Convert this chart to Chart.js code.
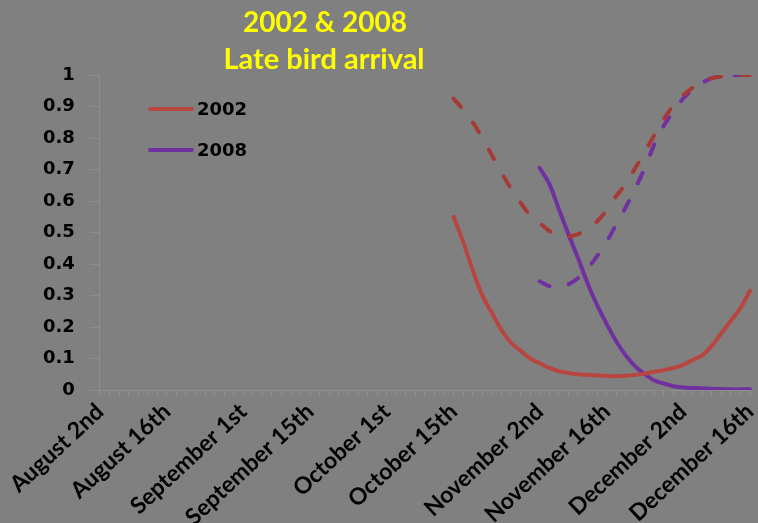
<!DOCTYPE html>
<html lang="en">
<head>
<meta charset="UTF-8">
<title>2002 &amp; 2008 Late bird arrival</title>
<script src="https://cdn.jsdelivr.net/npm/chart.js@4.4.1/dist/chart.umd.min.js"></script>
<style>
    html, body { margin: 0; padding: 0; background: #808080; }
    #wrap { width: 758px; height: 523px; position: relative; }
</style>
</head>
<body>
<div id="wrap"><canvas id="myChart"></canvas></div>
<script>
    // every second day, Aug 2nd .. Dec 16th
    const categories = [
        'August 2nd', 'August 4th', 'August 6th', 'August 8th', 'August 10th', 'August 12th', 'August 14th',
        'August 16th', 'August 18th', 'August 20th', 'August 22nd', 'August 24th', 'August 26th', 'August 28th',
        'August 30th', 'September 1st', 'September 3rd', 'September 5th', 'September 7th', 'September 9th',
        'September 11th', 'September 13th', 'September 15th', 'September 17th', 'September 19th', 'September 21st',
        'September 23rd', 'September 25th', 'September 27th', 'September 29th', 'October 1st', 'October 3rd',
        'October 5th', 'October 7th', 'October 9th', 'October 11th', 'October 13th', 'October 15th', 'October 17th',
        'October 19th', 'October 21st', 'October 23rd', 'October 25th', 'October 27th', 'October 29th', 'October 31st',
        'November 2nd', 'November 4th', 'November 6th', 'November 8th', 'November 10th', 'November 12th',
        'November 14th', 'November 16th', 'November 18th', 'November 20th', 'November 22nd', 'November 24th',
        'November 26th', 'November 28th', 'November 30th', 'December 2nd', 'December 4th', 'December 6th',
        'December 8th', 'December 10th', 'December 12th', 'December 14th', 'December 16th'
    ];
    const tickLabels = ['August 2nd', 'August 16th', 'September 1st', 'September 15th', 'October 1st',
        'October 15th', 'November 2nd', 'November 16th', 'December 2nd', 'December 16th'];
    const seriesNames = ['2002', '2008'];

    // 2002 series begin on October 15th, 2008 on November 2nd
    const start2002 = categories.indexOf('October 15th');
    const start2008 = categories.indexOf('November 2nd');

    const solid2002 = [0.55, 0.47, 0.38, 0.30, 0.245, 0.19, 0.15, 0.125, 0.10, 0.085, 0.07, 0.06, 0.054, 0.05,
        0.048, 0.046, 0.045, 0.044, 0.045, 0.048, 0.052, 0.058, 0.063, 0.07, 0.08, 0.095, 0.11, 0.14, 0.18,
        0.22, 0.26, 0.315];
    const dashed2002 = [0.925, 0.89, 0.85, 0.80, 0.745, 0.69, 0.64, 0.595, 0.555, 0.53, 0.505, 0.49, 0.487,
        0.495, 0.51, 0.535, 0.57, 0.615, 0.655, 0.705, 0.755, 0.81, 0.86, 0.905, 0.935, 0.96, 0.978, 0.99,
        0.995, 0.998, 1.0, 1.0];
    const solid2008 = [0.705, 0.655, 0.575, 0.495, 0.42, 0.34, 0.27, 0.21, 0.155, 0.11, 0.075, 0.05, 0.03,
        0.02, 0.012, 0.008, 0.006, 0.005, 0.004, 0.003, 0.002, 0.002, 0.002];
    const dashed2008 = [0.345, 0.33, 0.325, 0.335, 0.355, 0.385, 0.425, 0.47, 0.525, 0.58, 0.64, 0.705, 0.78,
        0.84, 0.885, 0.925, 0.955, 0.975, 0.99, 0.996, 0.998, 1.0, 1.0];

    function pad(start, vals) {
        return Array(start).fill(null).concat(vals);
    }

    const red = '#b8453f', redDark = '#a63a36', purple = '#7030a0', axisGrey = '#8e8e8e';

    // yellow two line heading, sits left of centre like the original
    const headingPlugin = {
        id: 'heading',
        afterDraw(chart) {
            const ctx = chart.ctx;
            ctx.save();
            ctx.fillStyle = '#ffff00';
            ctx.font = 'bold 28px Lato';
            ctx.textAlign = 'center';
            ctx.textBaseline = 'middle';
            ctx.fillText('2002 & 2008', 325, 23);
            ctx.font = 'bold 29px Lato';
            ctx.fillText('Late bird arrival', 324, 60);
            ctx.restore();
        }
    };

    // legend inside the plot, only the solid lines
    const insideLegend = {
        id: 'insideLegend',
        afterDraw(chart) {
            const ctx = chart.ctx, area = chart.chartArea;
            const colours = [red, purple];
            ctx.save();
            ctx.font = 'bold 18px "DejaVu Sans"';
            ctx.textBaseline = 'middle';
            ctx.fillStyle = '#000';
            seriesNames.forEach(function (name, i) {
                const y = area.top + 34 + i * 41;
                ctx.beginPath();
                ctx.strokeStyle = colours[i];
                ctx.lineWidth = 4;
                ctx.lineCap = 'round';
                ctx.moveTo(area.left + 50, y);
                ctx.lineTo(area.left + 92, y);
                ctx.stroke();
                ctx.fillText(name, area.left + 97, y + 1);
            });
            ctx.restore();
        }
    };

    function line(label, data, colour, dashed) {
        return {
            label: label,
            data: data,
            borderColor: colour,
            backgroundColor: colour,
            borderWidth: 4,
            borderDash: dashed ? [11, 20] : [],
            borderCapStyle: 'round',
            borderJoinStyle: 'round',
            pointRadius: 0,
            tension: 0.3,
            fill: false
        };
    }

    let ctx = document.getElementById('myChart').getContext('2d');
    let chart = new Chart(ctx, {
        type: 'line',
        data: {
            labels: categories,
            datasets: [
                line(seriesNames[0], pad(start2002, solid2002), red, false),
                line(seriesNames[0] + ' dashed', pad(start2002, dashed2002), redDark, true),
                line(seriesNames[1], pad(start2008, solid2008), purple, false),
                line(seriesNames[1] + ' dashed', pad(start2008, dashed2008), purple, true)
            ]
        },
        options: {
            responsive: true,
            maintainAspectRatio: false,
            animation: false,
            layout: { padding: { top: 75, left: 28, right: 8, bottom: 0 } },
            plugins: {
                legend: { display: false },
                title: { display: false },
                tooltip: { enabled: false }
            },
            scales: {
                x: {
                    type: 'category',
                    grid: { drawOnChartArea: false, color: axisGrey, tickLength: 6 },
                    border: { color: axisGrey },
                    // slanted labels run off the bottom / left like the original
                    afterFit: function (scale) {
                        scale.paddingLeft = 0;
                        scale.paddingRight = 0;
                        scale.height = 133;
                    },
                    ticks: {
                        autoSkip: false,
                        minRotation: 43,
                        maxRotation: 43,
                        padding: 2,
                        color: '#000',
                        font: { family: 'Lato', weight: 'bold', size: 23 },
                        callback: function (value, index) {
                            const name = categories[index];
                            return tickLabels.includes(name) ? name : '';
                        }
                    }
                },
                y: {
                    min: 0,
                    max: 1,
                    grid: { drawOnChartArea: false, color: axisGrey, tickLength: 10 },
                    border: { color: axisGrey },
                    ticks: {
                        stepSize: 0.1,
                        padding: 15,
                        color: '#000',
                        font: { family: 'DejaVu Sans', weight: 'bold', size: 18 },
                        callback: function (value) {
                            return String(Number(value.toFixed(1)));
                        }
                    }
                }
            }
        },
        plugins: [headingPlugin, insideLegend]
    });
</script>
</body>
</html>
